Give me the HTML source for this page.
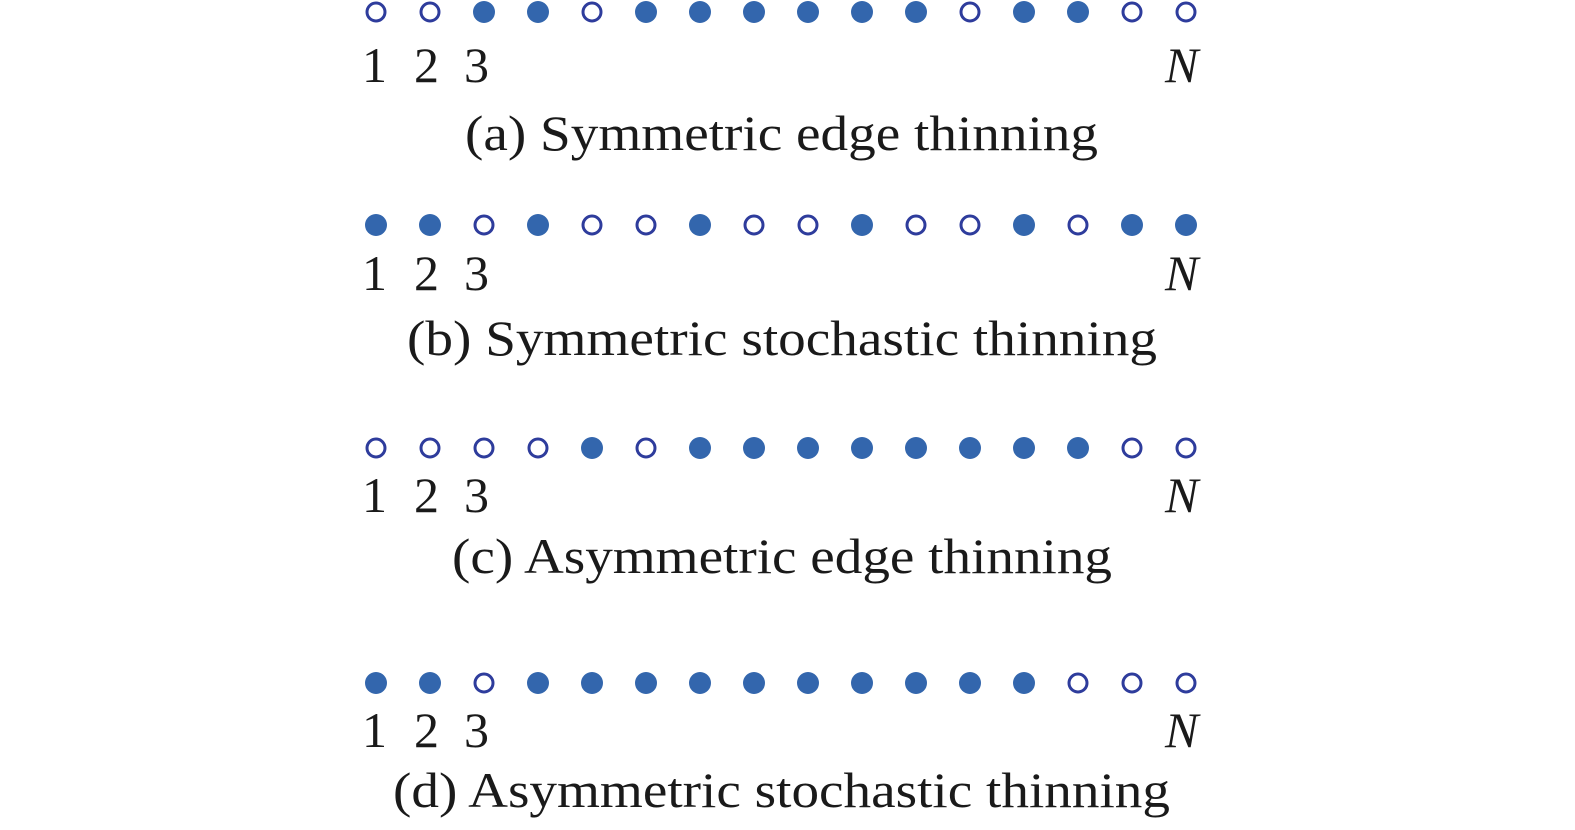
<!DOCTYPE html>
<html><head><meta charset="utf-8"><style>html,body{margin:0;padding:0;background:#fff;}svg{display:block}</style></head>
<body>
<svg width="1575" height="830" xmlns="http://www.w3.org/2000/svg" font-family="Liberation Serif, serif" fill="#1a1a1a">
<g id="rows"></g>
<text x="1098" y="0"></text>
<script>
const rows=[
 {y:12,d:82,c:150,p:"oofforffffffoffoo",t:"(a) Symmetric edge thinning",x1:465,x2:1098},
];
</script>
<!-- Row a -->
<g>
<circle cx="376" cy="12" r="9" fill="none" stroke="#2e3c9c" stroke-width="3"/>
<circle cx="430" cy="12" r="9" fill="none" stroke="#2e3c9c" stroke-width="3"/>
<circle cx="484" cy="12" r="11" fill="#3366ad"/>
<circle cx="538" cy="12" r="11" fill="#3366ad"/>
<circle cx="592" cy="12" r="9" fill="none" stroke="#2e3c9c" stroke-width="3"/>
<circle cx="646" cy="12" r="11" fill="#3366ad"/>
<circle cx="700" cy="12" r="11" fill="#3366ad"/>
<circle cx="754" cy="12" r="11" fill="#3366ad"/>
<circle cx="808" cy="12" r="11" fill="#3366ad"/>
<circle cx="862" cy="12" r="11" fill="#3366ad"/>
<circle cx="916" cy="12" r="11" fill="#3366ad"/>
<circle cx="970" cy="12" r="9" fill="none" stroke="#2e3c9c" stroke-width="3"/>
<circle cx="1024" cy="12" r="11" fill="#3366ad"/>
<circle cx="1078" cy="12" r="11" fill="#3366ad"/>
<circle cx="1132" cy="12" r="9" fill="none" stroke="#2e3c9c" stroke-width="3"/>
<circle cx="1186" cy="12" r="9" fill="none" stroke="#2e3c9c" stroke-width="3"/>
<text x="362" y="82" font-size="50">1</text><text x="414" y="82" font-size="50">2</text><text x="464" y="82" font-size="50">3</text>
<text x="1165" y="82" font-size="50" font-style="italic">N</text>
<text x="465" y="150" font-size="50" textLength="633" lengthAdjust="spacingAndGlyphs">(a) Symmetric edge thinning</text>
</g>
<!-- Row b -->
<g>
<circle cx="376" cy="225" r="11" fill="#3366ad"/>
<circle cx="430" cy="225" r="11" fill="#3366ad"/>
<circle cx="484" cy="225" r="9" fill="none" stroke="#2e3c9c" stroke-width="3"/>
<circle cx="538" cy="225" r="11" fill="#3366ad"/>
<circle cx="592" cy="225" r="9" fill="none" stroke="#2e3c9c" stroke-width="3"/>
<circle cx="646" cy="225" r="9" fill="none" stroke="#2e3c9c" stroke-width="3"/>
<circle cx="700" cy="225" r="11" fill="#3366ad"/>
<circle cx="754" cy="225" r="9" fill="none" stroke="#2e3c9c" stroke-width="3"/>
<circle cx="808" cy="225" r="9" fill="none" stroke="#2e3c9c" stroke-width="3"/>
<circle cx="862" cy="225" r="11" fill="#3366ad"/>
<circle cx="916" cy="225" r="9" fill="none" stroke="#2e3c9c" stroke-width="3"/>
<circle cx="970" cy="225" r="9" fill="none" stroke="#2e3c9c" stroke-width="3"/>
<circle cx="1024" cy="225" r="11" fill="#3366ad"/>
<circle cx="1078" cy="225" r="9" fill="none" stroke="#2e3c9c" stroke-width="3"/>
<circle cx="1132" cy="225" r="11" fill="#3366ad"/>
<circle cx="1186" cy="225" r="11" fill="#3366ad"/>
<text x="362" y="290" font-size="50">1</text><text x="414" y="290" font-size="50">2</text><text x="464" y="290" font-size="50">3</text>
<text x="1165" y="290" font-size="50" font-style="italic">N</text>
<text x="407" y="355" font-size="50" textLength="750" lengthAdjust="spacingAndGlyphs">(b) Symmetric stochastic thinning</text>
</g>
<!-- Row c -->
<g>
<circle cx="376" cy="448" r="9" fill="none" stroke="#2e3c9c" stroke-width="3"/>
<circle cx="430" cy="448" r="9" fill="none" stroke="#2e3c9c" stroke-width="3"/>
<circle cx="484" cy="448" r="9" fill="none" stroke="#2e3c9c" stroke-width="3"/>
<circle cx="538" cy="448" r="9" fill="none" stroke="#2e3c9c" stroke-width="3"/>
<circle cx="592" cy="448" r="11" fill="#3366ad"/>
<circle cx="646" cy="448" r="9" fill="none" stroke="#2e3c9c" stroke-width="3"/>
<circle cx="700" cy="448" r="11" fill="#3366ad"/>
<circle cx="754" cy="448" r="11" fill="#3366ad"/>
<circle cx="808" cy="448" r="11" fill="#3366ad"/>
<circle cx="862" cy="448" r="11" fill="#3366ad"/>
<circle cx="916" cy="448" r="11" fill="#3366ad"/>
<circle cx="970" cy="448" r="11" fill="#3366ad"/>
<circle cx="1024" cy="448" r="11" fill="#3366ad"/>
<circle cx="1078" cy="448" r="11" fill="#3366ad"/>
<circle cx="1132" cy="448" r="9" fill="none" stroke="#2e3c9c" stroke-width="3"/>
<circle cx="1186" cy="448" r="9" fill="none" stroke="#2e3c9c" stroke-width="3"/>
<text x="362" y="512" font-size="50">1</text><text x="414" y="512" font-size="50">2</text><text x="464" y="512" font-size="50">3</text>
<text x="1165" y="512" font-size="50" font-style="italic">N</text>
<text x="452" y="573" font-size="50" textLength="660" lengthAdjust="spacingAndGlyphs">(c) Asymmetric edge thinning</text>
</g>
<!-- Row d -->
<g>
<circle cx="376" cy="683" r="11" fill="#3366ad"/>
<circle cx="430" cy="683" r="11" fill="#3366ad"/>
<circle cx="484" cy="683" r="9" fill="none" stroke="#2e3c9c" stroke-width="3"/>
<circle cx="538" cy="683" r="11" fill="#3366ad"/>
<circle cx="592" cy="683" r="11" fill="#3366ad"/>
<circle cx="646" cy="683" r="11" fill="#3366ad"/>
<circle cx="700" cy="683" r="11" fill="#3366ad"/>
<circle cx="754" cy="683" r="11" fill="#3366ad"/>
<circle cx="808" cy="683" r="11" fill="#3366ad"/>
<circle cx="862" cy="683" r="11" fill="#3366ad"/>
<circle cx="916" cy="683" r="11" fill="#3366ad"/>
<circle cx="970" cy="683" r="11" fill="#3366ad"/>
<circle cx="1024" cy="683" r="11" fill="#3366ad"/>
<circle cx="1078" cy="683" r="9" fill="none" stroke="#2e3c9c" stroke-width="3"/>
<circle cx="1132" cy="683" r="9" fill="none" stroke="#2e3c9c" stroke-width="3"/>
<circle cx="1186" cy="683" r="9" fill="none" stroke="#2e3c9c" stroke-width="3"/>
<text x="362" y="747" font-size="50">1</text><text x="414" y="747" font-size="50">2</text><text x="464" y="747" font-size="50">3</text>
<text x="1165" y="747" font-size="50" font-style="italic">N</text>
<text x="393" y="807" font-size="50" textLength="777" lengthAdjust="spacingAndGlyphs">(d) Asymmetric stochastic thinning</text>
</g>
</svg>
</body></html>
